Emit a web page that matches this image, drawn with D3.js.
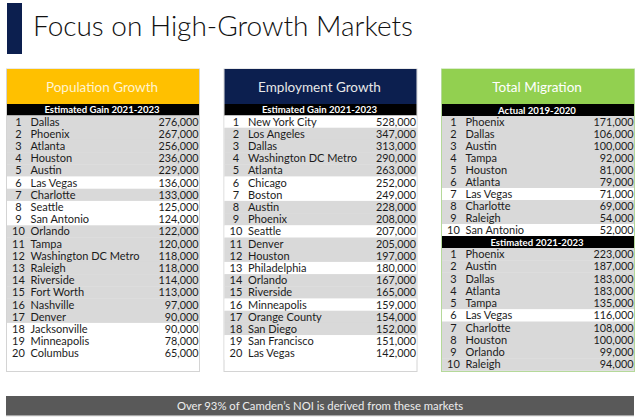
<!DOCTYPE html>
<html><head><meta charset="utf-8">
<script src="https://cdn.jsdelivr.net/npm/d3@7"></script>
<style>
html,body{margin:0;padding:0;background:#fff;}
svg{display:block;font-family:Lato,"Open Sans",sans-serif;}
</style></head>
<body><svg id="c" width="640" height="420"></svg>
<script>
// ---- data ----
const popNames = ["Dallas","Phoenix","Atlanta","Houston","Austin","Las Vegas","Charlotte","Seattle","San Antonio","Orlando","Tampa","Washington DC Metro","Raleigh","Riverside","Fort Worth","Nashville","Denver","Jacksonville","Minneapolis","Columbus"];
const popValues = [276000,267000,256000,236000,229000,136000,133000,125000,124000,122000,120000,118000,118000,114000,113000,97000,90000,90000,78000,65000];
const popCamden = [1,1,1,1,1,0,1,0,0,1,1,1,1,1,1,1,1,0,0,0];

const empNames = ["New York City","Los Angeles","Dallas","Washington DC Metro","Atlanta","Chicago","Boston","Austin","Phoenix","Seattle","Denver","Houston","Philadelphia","Orlando","Riverside","Minneapolis","Orange County","San Diego","San Francisco","Las Vegas"];
const empValues = [528000,347000,313000,290000,263000,252000,249000,228000,208000,207000,205000,197000,180000,167000,165000,159000,154000,152000,151000,142000];
const empCamden = [0,1,1,1,1,0,0,1,1,0,1,1,0,1,1,0,1,1,0,0];

const migActNames = ["Phoenix","Dallas","Austin","Tampa","Houston","Atlanta","Las Vegas","Charlotte","Raleigh","San Antonio"];
const migActValues = [171000,106000,100000,92000,81000,79000,71000,69000,54000,52000];
const migActCamden = [1,1,1,1,1,1,0,1,1,0];

const migEstNames = ["Phoenix","Austin","Dallas","Atlanta","Tampa","Las Vegas","Charlotte","Houston","Orlando","Raleigh"];
const migEstValues = [223000,187000,183000,183000,135000,116000,108000,100000,99000,94000];
const migEstCamden = [1,1,1,1,1,0,1,1,1,1];

const panelTitles = ["Population Growth","Employment Growth","Total Migration"];
const subTitles = ["Estimated Gain 2021-2023","Estimated Gain 2021-2023","Actual 2019-2020","Estimated 2021-2023"];
const chartTitle = "Focus on High-Growth Markets";
const footerText = "Over 93% of Camden\u2019s NOI is derived from these markets";

// ---- drawing ----
const svg = d3.select("#c");
const fmt = d3.format(",");
const W = 192;
const panelX = d3.scalePoint().domain(panelTitles).range([7, 442]);
const headerColors = ["#FFC000", "#0C1F4F", "#92D050"];
const headerText = ["#FFF4D0", "#E8E8E8", "#FFFFFF"];
const borderColors = ["#D4D4D4", "#D4D4D4", "#B5D99A"];

// title
svg.append("rect").attr("x",7).attr("y",3).attr("width",15).attr("height",51).attr("fill","#0C1F4F");
svg.append("text").attr("x",33).attr("y",36).attr("font-size",28).attr("font-weight",300)
  .attr("fill","#111").text(chartTitle);

function drawRows(g, names, values, camden, y0, y1) {
  const idx = d3.range(names.length);
  const y = d3.scaleBand().domain(idx).range([y0, y1]);
  const row = g.selectAll(null).data(idx).enter().append("g")
    .attr("transform", i => `translate(0,${y(i)})`);
  row.append("rect").attr("width", W).attr("height", y.bandwidth()+0.3)
    .attr("fill", i => camden[i] ? "#D9D9D9" : "#FFFFFF");
  const ty = y.bandwidth()/2 + 4;
  row.append("text").attr("x", 11.5).attr("y", ty).attr("text-anchor","middle")
    .attr("font-size",11).attr("fill","#1c1c1c").text(i => i+1);
  row.append("text").attr("x", 23.5).attr("y", ty)
    .attr("font-size",11).attr("fill","#1c1c1c").text(i => names[i]);
  row.append("text").attr("x", W-0.5).attr("y", ty).attr("text-anchor","end")
    .attr("font-size",10.8).attr("fill","#1c1c1c").text(i => fmt(values[i]));
}
function drawBar(g, label, y0, h) {
  g.append("rect").attr("y", y0).attr("width", W).attr("height", h).attr("fill","#000");
  g.append("text").attr("x", W/2 - 1).attr("y", y0 + h/2 + 3.6).attr("text-anchor","middle")
    .attr("font-size",9.6).attr("font-weight",700).attr("fill","#fff").text(label);
}

panelTitles.forEach((t, p) => {
  const g = svg.append("g").attr("transform", `translate(${panelX(t)},0)`);
  g.append("rect").attr("x",-0.5).attr("y",69).attr("width",W+1).attr("height",371-69+0.5)
    .attr("fill","#fff").attr("stroke",borderColors[p]).attr("stroke-width",1);
  g.append("rect").attr("y",69).attr("width",W).attr("height",35).attr("fill",headerColors[p]);
  g.append("text").attr("x",W/2-1).attr("y",91.5).attr("text-anchor","middle")
    .attr("font-size",13.5).attr("fill",headerText[p]).text(t);
  if (p === 0) { drawBar(g, subTitles[0], 104, 11.5); drawRows(g, popNames, popValues, popCamden, 115.5, 359.5); }
  if (p === 1) { drawBar(g, subTitles[1], 104, 11.5); drawRows(g, empNames, empValues, empCamden, 115.5, 359.5); }
  if (p === 2) {
    drawBar(g, subTitles[2], 104, 12);
    drawRows(g, migActNames, migActValues, migActCamden, 116, 236);
    drawBar(g, subTitles[3], 236, 12);
    drawRows(g, migEstNames, migEstValues, migEstCamden, 248, 370.5);
  }
});

// footer
svg.append("rect").attr("x",6).attr("y",396).attr("width",628).attr("height",20).attr("fill","#595959");
svg.append("rect").attr("x",6).attr("y",415).attr("width",628).attr("height",1.2).attr("fill","#A6A6A6");
svg.append("text").attr("x",320).attr("y",410).attr("text-anchor","middle")
  .attr("font-size",11.3).attr("fill","#EDEDED").text(footerText);
</script></body></html>
